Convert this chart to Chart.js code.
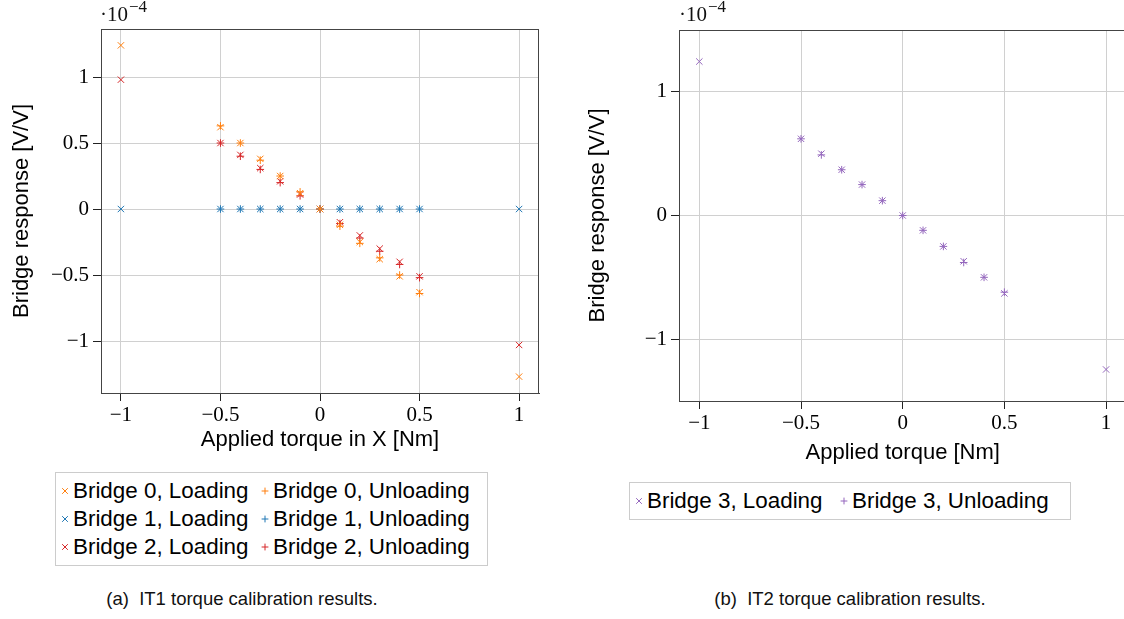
<!DOCTYPE html>
<html>
<head>
<meta charset="utf-8">
<script src="https://cdn.jsdelivr.net/npm/chart.js@4.4.0/dist/chart.umd.min.js"></script>
<style>
  body { margin: 0; background: #fff; width: 1124px; height: 619px; overflow: hidden; position: relative;
         font-family: "Liberation Sans", Arial, sans-serif; }
  canvas.plot { position: absolute; top: 0; }
  #c1 { left: 0; }
  #c2 { left: 570px; }
  .exp { position: absolute; top: 1px; font-family: "Liberation Serif", serif; font-size: 21px; line-height: 26px; color: #111; }
  .exp span { font-size: 17px; position: relative; top: -9px; margin-left: 1px; }
  .legend { position: absolute; border: 1px solid #ccc; box-sizing: border-box; }
  .item { position: absolute; font-size: 22.4px; line-height: 28px; white-space: nowrap; color: #000; }
  .item canvas { position: absolute; left: -13px; top: 9px; }
  .cap { position: absolute; top: 588px; width: 500px; text-align: center; font-size: 18.5px; color: #111; }
</style>
</head>
<body>
<canvas id="c1" class="plot" width="560" height="460"></canvas>
<canvas id="c2" class="plot" width="580" height="475"></canvas>
<div class="exp" style="left:100px">·10<span>−4</span></div>
<div class="exp" style="left:679px">·10<span>−4</span></div>
<div class="legend" id="leg1" style="left:55px;top:472px;width:433px;height:94px"></div>
<div class="legend" id="leg2" style="left:629px;top:482px;width:442px;height:38px"></div>
<div class="cap" style="left:-8px">(a)&nbsp; IT1 torque calibration results.</div>
<div class="cap" style="left:600px">(b)&nbsp; IT2 torque calibration results.</div>
<script>
// torque steps (Nm); loading runs include the ±1 end points
const torqueLoading = [-1, -0.5, -0.4, -0.3, -0.2, -0.1, 0, 0.1, 0.2, 0.3, 0.4, 0.5, 1];
const torqueUnloading = [-0.5, -0.4, -0.3, -0.2, -0.1, 0, 0.1, 0.2, 0.3, 0.4, 0.5];

// bridge responses in units of 1e-4 V/V
const bridge0Loading = [1.24, 0.62, 0.50, 0.38, 0.25, 0.12, 0, -0.12, -0.25, -0.38, -0.51, -0.63, -1.27];
const bridge0Unloading = [0.63, 0.50, 0.37, 0.25, 0.13, 0, -0.13, -0.26, -0.37, -0.50, -0.64];
const bridge1Loading = [0, 0, 0, 0, 0, 0, 0, 0, 0, 0, 0, 0, 0];
const bridge1Unloading = [0, 0, 0, 0, 0, 0, 0, 0, 0, 0, 0];
const bridge2Loading = [0.98, 0.50, 0.41, 0.31, 0.21, 0.11, 0, -0.10, -0.20, -0.30, -0.40, -0.51, -1.03];
const bridge2Unloading = [0.50, 0.40, 0.30, 0.20, 0.10, 0, -0.11, -0.22, -0.32, -0.42, -0.52];
const bridge3Loading = [1.245, 0.62, 0.50, 0.37, 0.25, 0.12, 0, -0.12, -0.25, -0.37, -0.50, -0.63, -1.245];
const bridge3Unloading = [0.62, 0.49, 0.37, 0.25, 0.12, 0, -0.12, -0.25, -0.38, -0.50, -0.62];

const xTicks = [-1, -0.5, 0, 0.5, 1];
const yTicksLeft = [-1, -0.5, 0, 0.5, 1];
const yTicksRight = [-1, 0, 1];

const orange = '#ff7f0e', blue = '#1f77b4', red = '#d62728', purple = '#9467bd';

function pts(xs, ys) {
    return xs.map((x, i) => ({ x: x, y: ys[i] }));
}
function series(label, xs, ys, color, loading) {
    return {
        label: label,
        data: pts(xs, ys),
        borderColor: color,
        backgroundColor: color,
        pointStyle: loading ? 'crossRot' : 'cross',
        pointRadius: loading ? 4.5 : 3.8,
        pointBorderWidth: 1,
        showLine: false
    };
}
const fmt = v => String(v).replace('-', '\u2212');

// outline of the whole plot box
const framePlugin = {
    id: 'frame',
    beforeDatasetsDraw(chart) {
        const a = chart.chartArea, c = chart.ctx;
        c.save();
        c.strokeStyle = '#444';
        c.lineWidth = 1;
        c.strokeRect(Math.round(a.left) + 0.5, Math.round(a.top) + 0.5,
                     Math.round(a.right - a.left) - 1, Math.round(a.bottom - a.top));
        c.restore();
    }
};

function makeOptions(cfg) {
    return {
        responsive: false,
        animation: false,
        layout: { padding: cfg.padding },
        plugins: { legend: { display: false }, tooltip: { enabled: false } },
        scales: {
            x: {
                type: 'linear', min: -1.1, max: 1.1,
                afterBuildTicks: s => { s.ticks = xTicks.map(v => ({ value: v })); },
                afterFit: s => { s.height = cfg.xHeight; },
                ticks: { callback: fmt, color: '#000', padding: 2,
                         font: { family: 'Liberation Serif', size: 21 } },
                grid: { color: '#d0d0d0', tickColor: '#222', tickLength: 8 },
                border: { color: '#444' },
                title: { display: true, text: cfg.xTitle, color: '#000', padding: 0,
                         font: { family: 'Liberation Sans', size: 22 } }
            },
            y: {
                type: 'linear', min: cfg.yMin, max: cfg.yMax,
                afterBuildTicks: s => { s.ticks = cfg.yTicks.map(v => ({ value: v })); },
                afterFit: s => { s.width = cfg.yWidth; },
                ticks: { callback: fmt, color: '#000', padding: 4,
                         font: { family: 'Liberation Serif', size: 21 } },
                grid: { color: '#d0d0d0', tickColor: '#222', tickLength: 8 },
                border: { color: '#444' },
                title: { display: true, text: 'Bridge response [V/V]', color: '#000',
                         padding: { top: cfg.yTitlePad, bottom: 0 },
                         font: { family: 'Liberation Sans', size: 22 } }
            }
        }
    };
}

const chart1 = new Chart(document.getElementById('c1'), {
    type: 'scatter',
    data: {
        datasets: [
            series('Bridge 0, Loading', torqueLoading, bridge0Loading, orange, true),
            series('Bridge 0, Unloading', torqueUnloading, bridge0Unloading, orange, false),
            series('Bridge 1, Loading', torqueLoading, bridge1Loading, blue, true),
            series('Bridge 1, Unloading', torqueUnloading, bridge1Unloading, blue, false),
            series('Bridge 2, Loading', torqueLoading, bridge2Loading, red, true),
            series('Bridge 2, Unloading', torqueUnloading, bridge2Unloading, red, false)
        ]
    },
    options: makeOptions({
        padding: { left: 0, top: 29, right: 21, bottom: 6.8 },
        xHeight: 60.2, yWidth: 101, yTitlePad: 9,
        yMin: -1.394, yMax: 1.364, yTicks: yTicksLeft,
        xTitle: 'Applied torque in X [Nm]'
    }),
    plugins: [framePlugin]
});

const chart2 = new Chart(document.getElementById('c2'), {
    type: 'scatter',
    data: {
        datasets: [
            series('Bridge 3, Loading', torqueLoading, bridge3Loading, purple, true),
            series('Bridge 3, Unloading', torqueUnloading, bridge3Unloading, purple, false)
        ]
    },
    options: makeOptions({
        padding: { left: 0, top: 30, right: 23.6, bottom: 8.8 },
        xHeight: 65.2, yWidth: 109, yTitlePad: 15,
        yMin: -1.5, yMax: 1.5, yTicks: yTicksRight,
        xTitle: 'Applied torque [Nm]'
    }),
    plugins: [framePlugin]
});

// legends built from the chart datasets: loading in column 1, unloading in column 2
function buildLegend(chart, boxId, colX, rowTop) {
    const box = document.getElementById(boxId);
    chart.data.datasets.forEach((ds, i) => {
        const item = document.createElement('div');
        item.className = 'item';
        item.style.left = colX[i % 2] + 'px';
        item.style.top = (rowTop + Math.floor(i / 2) * 28) + 'px';
        const m = document.createElement('canvas');
        m.width = 10; m.height = 10;
        const ctx = m.getContext('2d');
        ctx.strokeStyle = ds.borderColor;
        ctx.lineWidth = 1;
        Chart.helpers.drawPoint(ctx, { pointStyle: ds.pointStyle, radius: ds.pointStyle === 'cross' ? 3.4 : 4,
                                       rotation: 0, borderWidth: 1 }, 5, 5);
        item.appendChild(m);
        item.appendChild(document.createTextNode(ds.label));
        box.appendChild(item);
    });
}
buildLegend(chart1, 'leg1', [17, 217], 4);
buildLegend(chart2, 'leg2', [17, 222], 4);
</script>
</body>
</html>
